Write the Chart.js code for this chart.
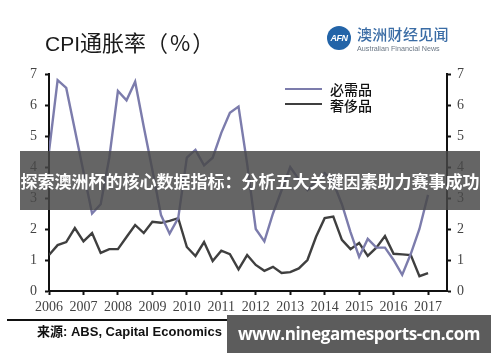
<!DOCTYPE html>
<html><head><meta charset="utf-8">
<script src="https://cdn.jsdelivr.net/npm/chart.js@4.4.1/dist/chart.umd.min.js"></script>
<style>
html,body{margin:0;padding:0;background:#fff;}
#wrap{position:relative;width:500px;height:362px;overflow:hidden;background:#fff;}
#c{position:absolute;left:0;top:0;}
.abs{position:absolute;white-space:nowrap;z-index:2;}
#title{left:45px;top:29px;font:21px/24px "Liberation Sans","Noto Sans CJK SC",sans-serif;color:#1a1a1a;}
#title .cjk{font:22px/24px "Noto Sans CJK SC",sans-serif;}
#title .par{font:22px/24px "Noto Sans CJK SC",sans-serif;letter-spacing:2px;}
#logo{left:327px;top:26px;width:24px;height:24px;border-radius:50%;background:#2364a8;color:#fff;font:italic bold 9px/24px "Liberation Sans",sans-serif;text-align:center;letter-spacing:-0.5px;}
#logocn{left:357px;top:25px;font:500 15px/18px "Noto Sans CJK SC",sans-serif;color:#3a6ca5;letter-spacing:0.3px;}
#logoen{left:357px;top:44px;font:7.2px/9px "Liberation Sans",sans-serif;color:#6b7785;}
.lgline{position:absolute;z-index:2;left:285px;width:37px;height:2px;}
.lgtxt{left:330px;font:500 14px/16px "Noto Sans CJK SC",sans-serif;color:#111;}
#rule{left:7px;top:319px;width:481px;height:2px;background:#111;}
#src{left:37px;top:323px;font:bold 13px/18px "Liberation Sans","Noto Sans CJK SC",sans-serif;color:#111;}
#wm{left:227px;top:315px;width:264px;height:38px;background:#5c5c5c;color:#fff;font:bold 17px/38px "Open Sans","Liberation Sans",sans-serif;letter-spacing:-0.4px;text-align:center;z-index:3;}
#banner{left:20px;top:151px;width:460px;height:59px;background:rgba(72,72,72,0.84);color:#fff;font:bold 17px/59px "Noto Sans CJK SC",sans-serif;text-align:center;z-index:3;}
</style></head><body>
<div id="wrap">
<canvas id="c" width="500" height="362"></canvas>
<div class="abs" id="title">CPI<span class="cjk">通胀率</span><span class="par">（%）</span></div>
<div class="abs" id="logo">AFN</div>
<div class="abs" id="logocn">澳洲财经见闻</div>
<div class="abs" id="logoen">Australian Financial News</div>
<div class="lgline" style="top:88px;background:#7c7cac;"></div>
<div class="abs lgtxt" style="top:81px;">必需品</div>
<div class="lgline" style="top:103px;background:#3f3f3f;"></div>
<div class="abs lgtxt" style="top:97px;">奢侈品</div>
<div class="abs" id="rule"></div>
<div class="abs" id="src">来源: ABS, Capital Economics</div>
<div class="abs" id="wm">www.ninegamesports-cn.com</div>
<div class="abs" id="banner">探索澳洲杯的核心数据指标：分析五大关键因素助力赛事成功</div>
</div>
<script>
// Tick labels (years) and quarterly observation labels
const years = [2006, 2007, 2008, 2009, 2010, 2011, 2012, 2013, 2014, 2015, 2016, 2017];
const quarters = [
 '2006Q1','2006Q2','2006Q3','2006Q4','2007Q1','2007Q2','2007Q3','2007Q4',
 '2008Q1','2008Q2','2008Q3','2008Q4','2009Q1','2009Q2','2009Q3','2009Q4',
 '2010Q1','2010Q2','2010Q3','2010Q4','2011Q1','2011Q2','2011Q3','2011Q4',
 '2012Q1','2012Q2','2012Q3','2012Q4','2013Q1','2013Q2','2013Q3','2013Q4',
 '2014Q1','2014Q2','2014Q3','2014Q4','2015Q1','2015Q2','2015Q3','2015Q4',
 '2016Q1','2016Q2','2016Q3','2016Q4','2017Q1'];
const yTicks = [0, 1, 2, 3, 4, 5, 6, 7];
// 必需品 (necessities) CPI %
const necessities = [4.5, 6.8, 6.55, 5.2, 3.85, 2.5, 2.8, 4.3, 6.45, 6.15, 6.75, 5.3,
 3.9, 2.45, 1.85, 2.35, 4.3, 4.55, 4.05, 4.3, 5.1, 5.75, 5.95, 4.1,
 2.0, 1.6, 2.5, 3.25, 4.0, 3.6, 3.25, 3.55, 3.8, 3.5, 2.8, 1.9,
 1.1, 1.68, 1.4, 1.4, 1.0, 0.52, 1.2, 2.0, 3.1];
// 奢侈品 (luxuries) CPI %
const luxuries = [1.16, 1.48, 1.58, 2.03, 1.6, 1.87, 1.23, 1.35, 1.35, 1.74, 2.13, 1.87,
 2.23, 2.2, 2.26, 2.35, 1.42, 1.13, 1.58, 0.97, 1.3, 1.19, 0.7, 1.16,
 0.84, 0.65, 0.78, 0.58, 0.61, 0.73, 1.0, 1.75, 2.35, 2.4, 1.65, 1.35,
 1.55, 1.13, 1.4, 1.77, 1.2, 1.18, 1.16, 0.48, 0.58];

const qx = q => parseInt(q.slice(0,4)) + (parseInt(q.slice(5)) - 1) / 4;
const pts = arr => arr.map((v, i) => ({x: qx(quarters[i]), y: v}));

const tickFont = {family: '"Liberation Serif", serif', size: 14};
const axisCommon = {
  grid: {drawOnChartArea: false, drawTicks: true, tickLength: 4, tickWidth: 2, tickColor: '#111'},
  border: {display: true, color: '#111', width: 2}
};
new Chart(document.getElementById('c'), {
  type: 'line',
  data: {datasets: [
    {label: '必需品', data: pts(necessities), borderColor: '#7c7cac', borderWidth: 2.4, pointRadius: 0, tension: 0, yAxisID: 'y'},
    {label: '奢侈品', data: pts(luxuries), borderColor: '#3f3f3f', borderWidth: 2.4, pointRadius: 0, tension: 0, yAxisID: 'y'}
  ]},
  options: {
    responsive: false, animation: false,
    layout: {padding: {left: 0, right: 0, top: 74, bottom: 46}},
    plugins: {legend: {display: false}, tooltip: {enabled: false}},
    scales: {
      x: Object.assign({}, axisCommon, {
        type: 'linear', min: years[0], max: 2017.55,
        afterBuildTicks: s => { s.ticks = years.map(v => ({value: v})); },
        afterFit: s => { s.height = 25; },
        ticks: {font: tickFont, color: '#444', padding: 4, maxRotation: 0, autoSkip: false, callback: v => String(v)}
      }),
      y: Object.assign({}, axisCommon, {
        position: 'left', min: 0, max: 7,
        afterBuildTicks: s => { s.ticks = yTicks.map(v => ({value: v})); },
        afterFit: s => { s.width = 49; },
        ticks: {font: tickFont, color: '#444', padding: 8}
      }),
      y2: Object.assign({}, axisCommon, {
        position: 'right', min: 0, max: 7,
        afterBuildTicks: s => { s.ticks = yTicks.map(v => ({value: v})); },
        afterFit: s => { s.width = 53; },
        ticks: {font: tickFont, color: '#444', padding: 6}
      })
    }
  }
});
</script>
</body></html>
